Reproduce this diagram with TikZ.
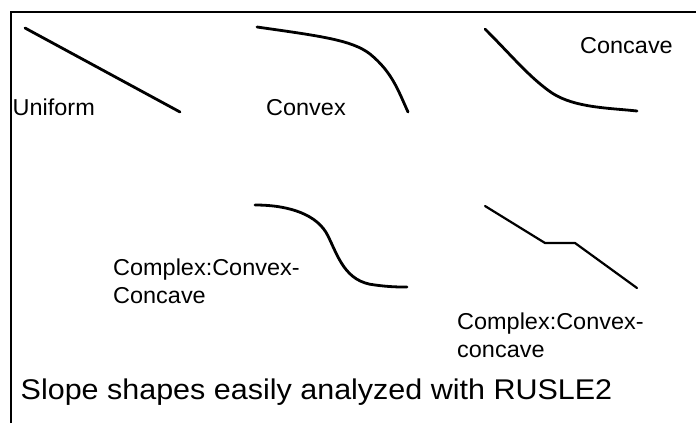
\documentclass[tikz,border=0pt]{standalone}
\usepackage{fontspec}
\setmainfont{Liberation Sans}
\newfontfamily\lblfont[FakeStretch=1.02]{Liberation Sans}
\newfontfamily\capfont[FakeStretch=1.07]{Liberation Sans}
\begin{document}
\begin{tikzpicture}[x=1pt,y=-1pt,
  slope/.style={line width=2.8pt,line cap=round,line join=round},
  frame/.style={line width=1.8pt},
  lbl/.style={anchor=base west,inner sep=0pt,align=left,font=\lblfont\fontsize{23}{28}\selectfont},
  captext/.style={anchor=base west,inner sep=0pt,font=\capfont\fontsize{28.5}{32}\selectfont}]
\useasboundingbox (0,0) rectangle (696,423);
% frame
\coordinate (fbl) at (11,423);
\coordinate (ftl) at (11,12);
\coordinate (ftr) at (696,12);
\draw[frame] (fbl) -- (ftl) -- (ftr);
% uniform
\coordinate (u1) at (25,28);
\coordinate (u2) at (180,112);
\draw[slope] (u1) -- (u2);
\node[lbl] (tu) at (12.5,115) {Uniform};
% convex
\coordinate (c1) at (257,27);
\coordinate (c2) at (408,112);
\draw[slope] (c1) .. controls (320,36) and (352,40) .. (370,54)
  .. controls (392,72) and (398,90) .. (c2);
\node[lbl] (tc) at (266,115) {Convex};
% concave
\coordinate (k1) at (485,29);
\coordinate (k2) at (637,111);
\draw[slope] (k1) .. controls (512,56) and (530,78) .. (552,93)
  .. controls (575,108) and (610,108) .. (k2);
\node[lbl] (tk) at (580,53) {Concave};
% complex S
\coordinate (s1) at (255,205);
\coordinate (s2) at (407,287);
\draw[slope] (s1) .. controls (290,205) and (318,215) .. (328,236)
  .. controls (338,256) and (345,282) .. (375,285)
  .. controls (390,287) and (398,287) .. (s2);
\node[lbl] (ts) at (113,303) {Complex:Convex-\\Concave};
% complex piecewise
\coordinate (p1) at (485,206);
\coordinate (p2) at (545,243);
\coordinate (p3) at (575,243);
\coordinate (p4) at (637,288);
\draw[slope,line width=2.2pt] (p1) -- (p2) -- (p3) -- (p4);
\node[lbl] (tp) at (457,357) {Complex:Convex-\\concave};
% caption
\node[captext] (captxt) at (20.5,399) {Slope shapes easily analyzed with RUSLE2};
\end{tikzpicture}
\end{document}
